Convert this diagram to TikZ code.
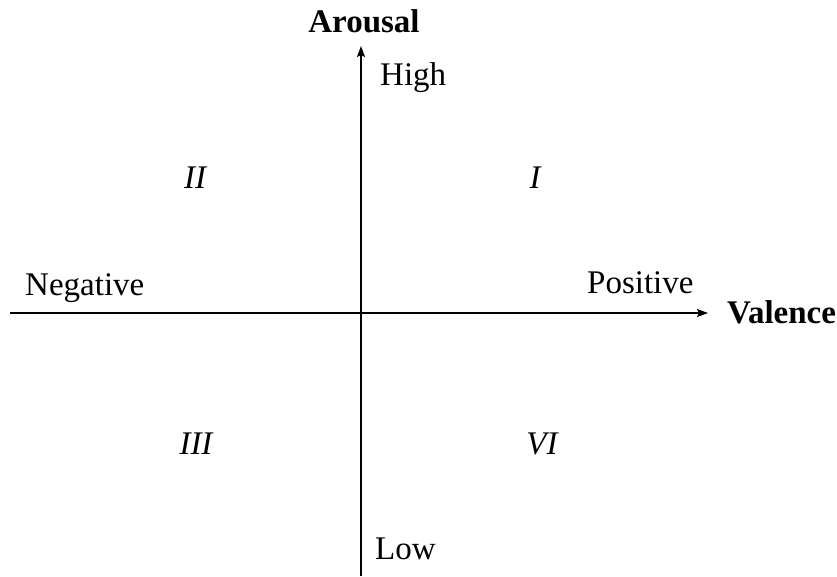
\documentclass[tikz,border=0pt]{standalone}
\usepackage{fontspec}
\setmainfont{Liberation Serif}
\usetikzlibrary{arrows.meta}
\begin{document}
\begin{tikzpicture}[x=1pt,y=-1pt,
  axis/.style={line width=1.5pt,-{Stealth[length=11pt,width=8pt,inset=2pt]}},
  lab/.style={font=\fontsize{33}{38}\selectfont,inner sep=0pt,anchor=base west},
  axlab/.style={font=\fontsize{33}{38}\selectfont\bfseries,inner sep=0pt},
  quad/.style={font=\fontsize{33}{38}\selectfont\itshape,inner sep=0pt,anchor=base}]
\useasboundingbox (0,0) rectangle (837,576);
\coordinate (xs) at (10,313);
\coordinate (xe) at (708,313);
\coordinate (ys) at (361,576);
\coordinate (ye) at (361,46);
\draw[axis] (xs) -- (xe);
\draw[axis] (ys) -- (ye);
\node[axlab,anchor=base] (arousal) at (364,32) {Arousal};
\node[axlab,anchor=base west] (valence) at (727,323) {Valence};
\node[lab] (high) at (380,85) {High};
\node[lab] (low) at (375,559) {Low};
\node[lab] (neg) at (25,295) {Negative};
\node[lab] (pos) at (587,293) {Positive};
\node[quad] (q2) at (195,188) {II};
\node[quad] (q1) at (535,188) {I};
\node[quad] (q3) at (196,454) {III};
\node[quad] (q4) at (542,454) {VI};
\end{tikzpicture}
\end{document}
